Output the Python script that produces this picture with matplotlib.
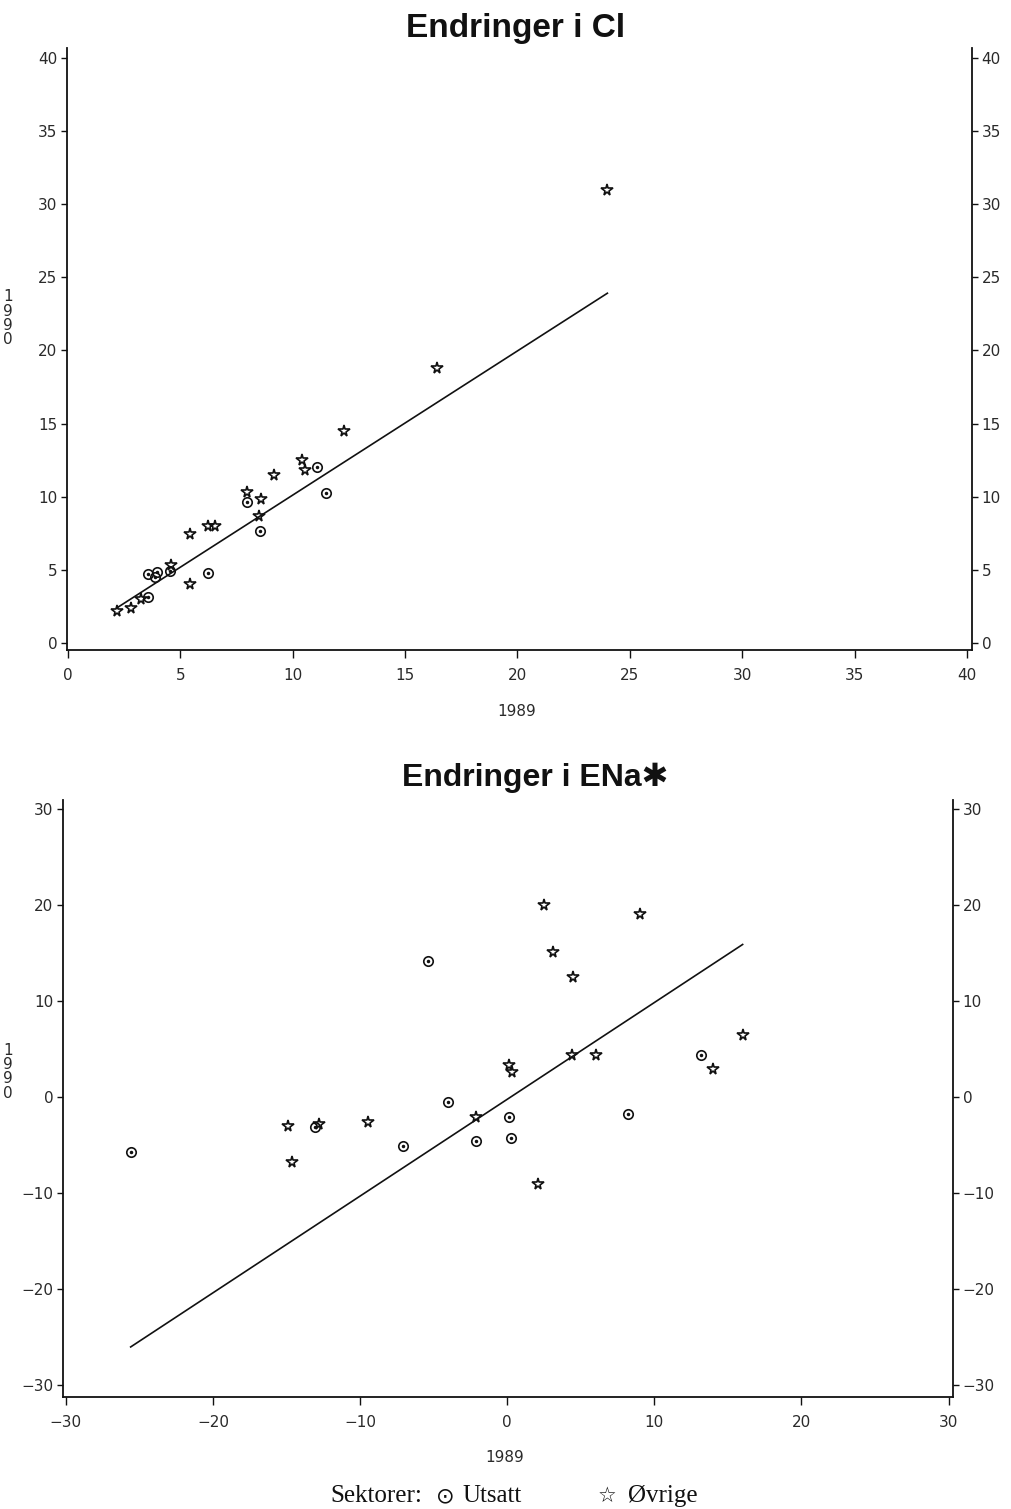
import matplotlib
matplotlib.use("Agg")
import matplotlib.pyplot as plt
import numpy as np

# ---------------- data: top panel (Endringer i Cl) ----------------
cl_utsatt_x = [3.56, 3.56, 3.87, 3.96, 4.54, 6.23, 7.97, 8.54, 11.1, 11.5]
cl_utsatt_y = [3.15, 4.70, 4.50, 4.86, 4.90, 4.80, 9.64, 7.66, 12.0, 10.26]
cl_ovrige_x = [2.18, 2.80, 3.25, 4.58, 5.43, 5.43, 6.23, 6.54, 7.97, 8.50,
               8.60, 9.17, 10.4, 10.55, 12.3, 16.4, 24.0]
cl_ovrige_y = [2.19, 2.40, 3.00, 5.30, 4.00, 7.45, 8.00, 8.00, 10.3, 8.70,
               9.85, 11.5, 12.5, 11.8, 14.5, 18.8, 31.0]
cl_fit = (0.25, 0.986)          # intercept, slope

# ---------------- data: bottom panel (Endringer i ENa*) ----------------
ena_utsatt_x = [-25.6, -13.1, -7.1, -5.4, -4.0, -2.1, 0.14, 0.27, 8.2, 13.2]
ena_utsatt_y = [-5.8, -3.2, -5.2, 14.1, -0.6, -4.6, -2.1, -4.3, -1.8, 4.3]
ena_ovrige_x = [-14.9, -14.6, -12.8, -9.5, -2.1, 0.14, 0.34, 2.1, 2.5, 3.1,
                4.5, 4.4, 6.0, 9.0, 14.0, 16.0]
ena_ovrige_y = [-3.05, -6.8, -2.9, -2.6, -2.1, 3.3, 2.6, -9.1, 20.0, 15.1,
                12.5, 4.3, 4.3, 19.0, 2.9, 6.4]
ena_fit = (-0.28, 1.008)

cl_ticks = [0, 5, 10, 15, 20, 25, 30, 35, 40]
ena_ticks = [-30, -20, -10, 0, 10, 20, 30]

titles = ["Endringer i Cl", "Endringer i ENa\u2731"]
xlabel = "1989"
ylabel = "1\n9\n9\n0"
legend_title = "Sektorer:"
legend_labels = ["Utsatt", "Øvrige"]

# ---------------- figure ----------------
W, H = 1011, 1509
fig = plt.figure(figsize=(W / 100, H / 100), dpi=100)
fig.patch.set_facecolor("white")

def px_axes(l, t, r, b):
    return fig.add_axes([l / W, 1 - b / H, (r - l) / W, (b - t) / H])

ax1 = px_axes(67, 48, 972, 650)
ax2 = px_axes(63, 800, 953, 1397)

TXT = "#2a2a2a"

def style(ax, xlim, ylim, xt, yt):
    ax.set_xlim(*xlim)
    ax.set_ylim(*ylim)
    ax.set_xticks(xt)
    ax.set_yticks(yt)
    for s in ["left", "right", "bottom"]:
        ax.spines[s].set_linewidth(1.3)
        ax.spines[s].set_color("#111111")
    ax.spines["top"].set_visible(False)
    ax.tick_params(axis="x", direction="out", length=6, width=1.0,
                   color="#111111", pad=7, labelsize=11, labelcolor=TXT)
    ax.tick_params(axis="y", direction="out", left=True, right=True,
                   labelleft=True, labelright=True, length=4, width=1.0,
                   color="#111111", pad=3, labelsize=11, labelcolor=TXT)
    for lab in ax.get_xticklabels() + ax.get_yticklabels():
        lab.set_fontfamily("DejaVu Sans")
    for t in ax.yaxis.get_major_ticks():
        t.label2.set_fontfamily("DejaVu Sans")
        t.label2.set_x(1.0)
    ax.tick_params(axis="y", which="major", pad=3)

def draw(ax, ux, uy, ox, oy, fit):
    ax.plot(ux, uy, linestyle="none", marker="o", markersize=6.8,
            markerfacecolor="none", markeredgecolor="#111111",
            markeredgewidth=1.2, zorder=3)
    ax.plot(ux, uy, linestyle="none", marker="o", markersize=1.5,
            markerfacecolor="#111111", markeredgecolor="#111111", zorder=4)
    ax.plot(ox, oy, linestyle="none", marker="*", markersize=8.5,
            markerfacecolor="none", markeredgecolor="#111111",
            markeredgewidth=1.2, zorder=3)
    allx = np.array(list(ux) + list(ox))
    xs = np.array([allx.min(), allx.max()])
    ax.plot(xs, fit[0] + fit[1] * xs, color="#111111", linewidth=1.2, zorder=2)

draw(ax1, cl_utsatt_x, cl_utsatt_y, cl_ovrige_x, cl_ovrige_y, cl_fit)
draw(ax2, ena_utsatt_x, ena_utsatt_y, ena_ovrige_x, ena_ovrige_y, ena_fit)

style(ax1, (-0.04, 40.22), (-0.48, 40.68), cl_ticks, cl_ticks)
style(ax2, (-30.2, 30.3), (-31.3, 30.9), ena_ticks, ena_ticks)

for ax, ycen, x0 in [(ax1, 0.551, 67), (ax2, 0.545, 63)]:
    ax.text((8 - x0) / ((ax.get_position().width) * W), ycen, ylabel,
            transform=ax.transAxes, ha="center", va="center", fontsize=11,
            family="DejaVu Sans", color=TXT, linespacing=0.95)

# x labels
fig.text(517 / W, 1 - 712 / H, xlabel, ha="center", va="center",
         fontsize=11, family="DejaVu Sans", color=TXT)
fig.text(505 / W, 1 - 1457 / H, xlabel, ha="center", va="center",
         fontsize=11, family="DejaVu Sans", color=TXT)

# titles
fig.text(516 / W, 1 - 29 / H, titles[0], ha="center", va="center",
         fontsize=24, fontweight="bold",
         family=["Liberation Sans", "DejaVu Sans"], color="#111111")
fig.text(535 / W, 1 - 778 / H, titles[1], ha="center", va="center",
         fontsize=23, fontweight="bold",
         family=["Liberation Sans", "DejaVu Sans"], color="#111111")

# legend row
ly = 1 - 1496 / H
serif = ["Liberation Serif", "DejaVu Serif"]
fig.text(330 / W, ly, legend_title, ha="left", va="center", fontsize=18,
         family=serif, color="#111111")
fig.text(445 / W, ly, "\u2299", ha="center", va="center", fontsize=16,
         family=["DejaVu Sans"], color="#111111")
fig.text(462 / W, ly, legend_labels[0], ha="left", va="center", fontsize=18,
         family=serif, color="#111111")
fig.text(607 / W, ly, "\u2606", ha="center", va="center", fontsize=15,
         family=["DejaVu Sans"], color="#111111")
fig.text(628 / W, ly, legend_labels[1], ha="left", va="center", fontsize=18,
         family=serif, color="#111111")

fig.savefig("out.png", dpi=100, facecolor="white")
